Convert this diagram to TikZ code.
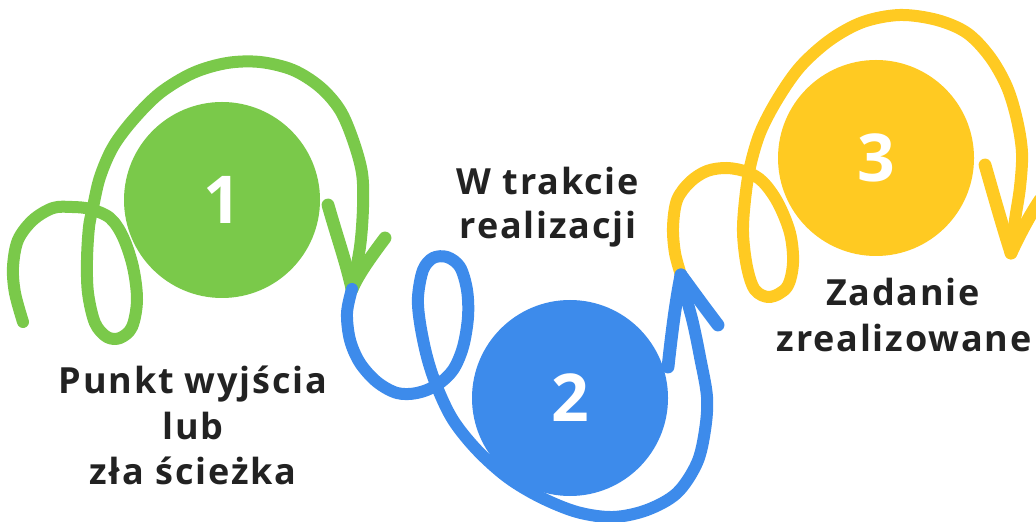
\documentclass[tikz,border=0pt]{standalone}
\usepackage{fontspec}
\setmainfont{Open Sans}
\newfontfamily\lblfont{Open Sans}[LetterSpace=5]
\definecolor{stepgreen}{HTML}{7AC94A}
\definecolor{stepblue}{HTML}{3D8BEB}
\definecolor{stepyellow}{HTML}{FFCA22}
\definecolor{labelink}{HTML}{222222}
\tikzset{
  disc/.style={circle, minimum size=98pt, inner sep=0pt, text=white,
    font=\fontsize{33}{33}\selectfont\bfseries},
  swirl/.style={line width=6pt, line cap=round, line join=round},
  barb/.style={line width=6.4pt, line cap=round},
  caption/.style={anchor=base, text=labelink, inner sep=0pt,
    font=\lblfont\bfseries\fontsize{18}{18}\selectfont},
}
\begin{document}
\begin{tikzpicture}[x=0.5pt, y=-0.5pt]
\useasboundingbox (0,0) rectangle (1036,522);

% step discs
\node[disc, fill=stepgreen]  (c1) at (222,200) {1};
\node[disc, fill=stepblue]   (c2) at (570,398) {2};
\node[disc, fill=stepyellow] (c3) at (876,158) {3};

% junctions where the swirls meet
\coordinate (g0) at (23,322);
\coordinate (j12) at (352,289);
\coordinate (j23) at (681,275);
\coordinate (y1) at (1011,253);

% green swirl: small loop, big arc over disc 1, arrow down
\draw[swirl, stepgreen] plot[smooth, tension=0.55] coordinates {
  (g0) (15,293) (13,267) (18,240) (33,220) (53,208) (72,207) (90,209)
  (110,218) (123,237) (133,267) (137,300) (132,327) (120,338) (107,337)
  (95,323) (88,293) (87,260) (89,227) (93,207) (100,177) (113,147)
  (133,120) (160,93) (193,73) (227,63) (260,62) (293,70) (320,87)
  (340,110) (353,140) (362,173) (363,207) (360,247) (j12)};
\draw[barb, stepgreen] (328,205) .. controls (338,240) and (346,262) .. (j12);
\draw[barb, stepgreen] (385,238) .. controls (370,258) and (358,275) .. (j12);

% yellow swirl: small loop, big arc over disc 3, arrow down
\draw[swirl, stepyellow] plot[smooth, tension=0.55] coordinates {
  (j23) (675,253) (673,227) (677,200) (690,182) (707,171) (727,168)
  (747,172) (763,182) (778,203) (790,233) (793,263) (787,287) (770,297)
  (755,290) (747,267) (743,233) (745,200) (750,167) (760,133) (777,100)
  (800,67) (830,40) (863,22) (900,15) (937,20) (967,33) (990,57)
  (1007,87) (1017,120) (1022,153) (1020,187) (1015,220) (y1)};
\draw[barb, stepyellow] (985,165) .. controls (995,200) and (1003,228) .. (y1);
\draw[barb, stepyellow] (1040,200) .. controls (1028,218) and (1018,238) .. (y1);

% blue swirl: from the green tip, loop, round disc 2, arrow up
\draw[swirl, stepblue] plot[smooth, tension=0.55] coordinates {
  (j12) (347,313) (350,340) (360,363) (377,382) (397,393) (417,393)
  (437,385) (453,370) (463,347) (468,317) (467,290) (460,267) (447,257)
  (433,258) (423,270) (418,297) (420,323) (427,357) (437,387) (453,420)
  (477,450) (507,477) (540,497) (577,512) (613,517) (647,510) (677,493)
  (697,463) (705,430) (707,397) (700,357) (693,323) (685,293) (j23)};
\draw[barb, stepblue] (668,367) .. controls (672,330) and (676,300) .. (j23);
\draw[barb, stepblue] (718,325) .. controls (705,308) and (692,290) .. (j23);

% captions
\node[caption] (l1a) at (193,394) {Punkt wyjścia};
\node[caption] (l1b) at (193,439) {lub};
\node[caption] (l1c) at (193,484) {zła ścieżka};
\node[caption] (l2a) at (548,195) {W trakcie};
\node[caption] (l2b) at (548,239) {realizacji};
\node[caption] (l3a) at (903,306) {Zadanie};
\node[caption] (l3b) at (904,352) {zrealizowane};
\end{tikzpicture}
\end{document}
